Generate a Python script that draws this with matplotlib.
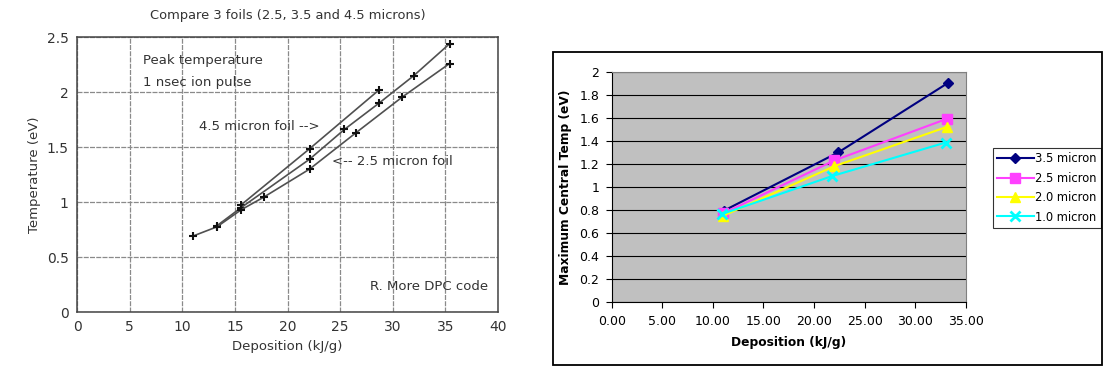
import numpy as np
import matplotlib
matplotlib.use("Agg")
import matplotlib.pyplot as plt
from matplotlib.patches import Rectangle

# left chart: scanned DPC code results (3 foils)
dep_45 = [15.6, 22.1, 28.7]
temp_45 = [0.975, 1.485, 2.02]
dep_35 = [13.3, 15.6, 22.1, 25.4, 28.7, 32.0, 35.4]
temp_35 = [0.785, 0.95, 1.39, 1.66, 1.90, 2.15, 2.44]
dep_25 = [11.0, 13.3, 15.6, 17.75, 22.1, 26.5, 30.9, 35.4]
temp_25 = [0.69, 0.775, 0.93, 1.045, 1.30, 1.63, 1.955, 2.26]

# right chart: maximum central temperature
dep_r = {"3.5 micron": [11.1, 22.4, 33.2],
         "2.5 micron": [11.0, 22.0, 33.1],
         "2.0 micron": [11.0, 22.0, 33.1],
         "1.0 micron": [10.9, 21.8, 33.0]}
temp_r = {"3.5 micron": [0.795, 1.30, 1.90],
          "2.5 micron": [0.77, 1.23, 1.59],
          "2.0 micron": [0.75, 1.18, 1.52],
          "1.0 micron": [0.765, 1.095, 1.385]}
cols = {"3.5 micron": "#000080", "2.5 micron": "#FF40FF",
        "2.0 micron": "#FFFF00", "1.0 micron": "#00FFFF"}
marks = {"3.5 micron": "D", "2.5 micron": "s", "2.0 micron": "^", "1.0 micron": "x"}

fig = plt.figure(figsize=(11.05, 3.75), dpi=100)

# ---- left
txtc = "#333333"
ax1 = fig.add_axes([0.0697, 0.168, 0.381, 0.733])
ax1.set_xlim(0, 40)
ax1.set_ylim(0, 2.5)
ax1.set_xticks(np.arange(0, 41, 5))
ax1.set_yticks([0, 0.5, 1, 1.5, 2, 2.5])
ax1.set_yticklabels(["0", "0.5", "1", "1.5", "2", "2.5"])
ax1.grid(True, color="#8a8a8a", linewidth=0.9, linestyle=(0, (4, 1)))
ax1.tick_params(length=0, labelsize=10, colors=txtc, pad=6)
for s in ax1.spines.values():
    s.set_color("#444444")
    s.set_linewidth(1.1)
for xs, ys in [(dep_45, temp_45), (dep_35, temp_35), (dep_25, temp_25)]:
    ax1.plot(xs, ys, color="#505050", linewidth=1.2, marker="+",
             markersize=6, markeredgewidth=1.5, markeredgecolor="#111111")
ax1.set_title("Compare 3 foils (2.5, 3.5 and 4.5 microns)", fontsize=9.4,
              color=txtc, pad=13)
ax1.set_xlabel("Deposition (kJ/g)", fontsize=9.5, color=txtc)
ax1.set_ylabel("Temperature (eV)", fontsize=9.5, color=txtc)
ax1.text(6.3, 2.29, "Peak temperature", fontsize=9.5, color=txtc, va="center")
ax1.text(6.3, 2.09, "1 nsec ion pulse", fontsize=9.5, color=txtc, va="center")
ax1.text(11.55, 1.69, "4.5 micron foil -->", fontsize=9.5, color=txtc, va="center")
ax1.text(24.2, 1.37, "<-- 2.5 micron foil", fontsize=9.5, color=txtc, va="center")
ax1.text(39.1, 0.23, "R. More DPC code", fontsize=9.5, color=txtc, va="center", ha="right")

# ---- right
fig.patches.append(Rectangle((553 / 1105, 10 / 375), 549 / 1105, 313 / 375,
                             transform=fig.transFigure, fill=False,
                             edgecolor="black", linewidth=1.3))
ax2 = fig.add_axes([0.5536, 0.1939, 0.3204, 0.615])
ax2.set_facecolor("#C0C0C0")
ax2.set_xlim(0, 35)
ax2.set_ylim(0, 2)
ax2.set_xticks(np.arange(0, 36, 5))
ax2.set_xticklabels(["%.2f" % v for v in np.arange(0, 36, 5)])
yt = np.arange(0, 2.01, 0.2)
ax2.set_yticks(yt)
ax2.set_yticklabels(["%g" % round(v, 1) for v in yt])
ax2.grid(True, axis="y", color="black", linewidth=0.8)
ax2.set_axisbelow(True)
ax2.tick_params(direction="out", length=4, labelsize=9, pad=5, width=0.8)
for k in ["top", "right"]:
    ax2.spines[k].set_color("#808080")
for k in ["left", "bottom"]:
    ax2.spines[k].set_color("black")
for name in dep_r:
    ms = 7 if marks[name] != "D" else 5.5
    ax2.plot(dep_r[name], temp_r[name], color=cols[name], linewidth=1.5,
             marker=marks[name], markersize=ms, markeredgewidth=2 if marks[name] == "x" else 1,
             label=name)
ax2.set_xlabel("Deposition (kJ/g)", fontsize=8.8, fontweight="bold", labelpad=6)
ax2.set_ylabel("Maximum Central Temp (eV)", fontsize=8.8, fontweight="bold", labelpad=5)
leg = ax2.legend(loc="center left", bbox_to_anchor=(993 / 1105, 187 / 375),
                 bbox_transform=fig.transFigure, fontsize=8.3, frameon=True,
                 fancybox=False, edgecolor="black", handlelength=3.2,
                 borderpad=0.35, labelspacing=0.55, handletextpad=0.1,
                 borderaxespad=0)
leg.get_frame().set_linewidth(0.8)

fig.savefig("out.png", dpi=100)
